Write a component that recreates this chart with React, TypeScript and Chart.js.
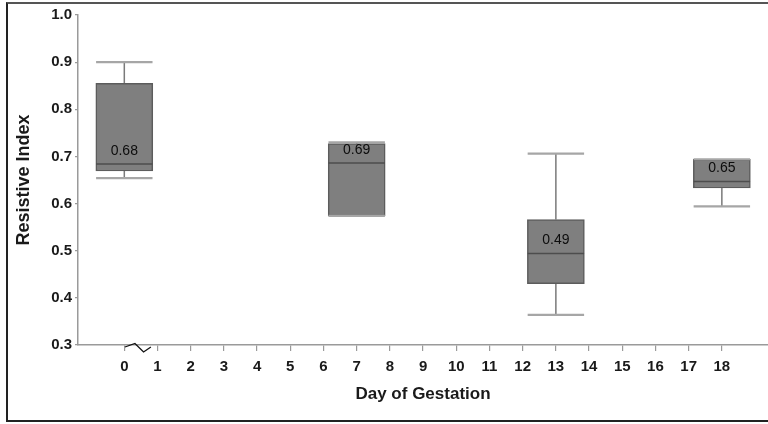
import React, { useEffect, useRef } from "react";
import { Chart, registerables } from "chart.js";

Chart.register(...registerables);

// ---- data ----
const days = [0, 7, 13, 18];
const whiskerMax = [0.9, 0.73, 0.706, 0.694];
const q3 = [0.855, 0.727, 0.566, 0.694];
const median = [0.684, 0.686, 0.494, 0.647];
const q1 = [0.669, 0.574, 0.43, 0.633];
const whiskerMin = [0.654, 0.574, 0.364, 0.594];
const medianLabels = ["0.68", "0.69", "0.49", "0.65"];
const xTickValues = [0, 1, 2, 3, 4, 5, 6, 7, 8, 9, 10, 11, 12, 13, 14, 15, 16, 17, 18];
const yTickValues = [0.3, 0.4, 0.5, 0.6, 0.7, 0.8, 0.9, 1.0];

// ---- style constants ----
const BOX_HALF = 0.85; // half width of box in x units
const FONT = "'Liberation Sans', Arial, Helvetica, sans-serif";

export default function App() {
  const ref = useRef<HTMLCanvasElement | null>(null);

  useEffect(() => {
    if (!ref.current) return;

    const whiskerData: any[] = [];
    const capData: any[] = [];
    const medianData: any[] = [];
    days.forEach((d, i) => {
      whiskerData.push({ x: d, y: q3[i] }, { x: d, y: whiskerMax[i] }, { x: d, y: null });
      whiskerData.push({ x: d, y: q1[i] }, { x: d, y: whiskerMin[i] }, { x: d, y: null });
      capData.push({ x: d - BOX_HALF, y: whiskerMax[i] }, { x: d + BOX_HALF, y: whiskerMax[i] }, { x: d, y: null });
      capData.push({ x: d - BOX_HALF, y: whiskerMin[i] }, { x: d + BOX_HALF, y: whiskerMin[i] }, { x: d, y: null });
      medianData.push({ x: d - BOX_HALF, y: median[i] }, { x: d + BOX_HALF, y: median[i] }, { x: d, y: null });
    });

    const labelPlugin = {
      id: "medianLabels",
      afterDatasetsDraw(chart: any) {
        const { ctx, scales } = chart;
        ctx.save();
        ctx.font = `14px ${FONT}`;
        ctx.fillStyle = "#0d0d0d";
        ctx.textAlign = "center";
        ctx.textBaseline = "middle";
        days.forEach((d, i) => {
          const x = scales.x.getPixelForValue(d);
          const y = scales.y.getPixelForValue(median[i]) - 13;
          ctx.fillText(medianLabels[i], x, y);
        });
        ctx.restore();
      },
      afterDraw(chart: any) {
        const { ctx, scales, chartArea } = chart;
        const xs = [0.02, 0.32, 0.58, 0.8].map((v) => scales.x.getPixelForValue(v));
        const yb = chartArea.bottom;
        const offs = [2, -1.5, 7, 2];
        ctx.save();
        ctx.strokeStyle = "#111";
        ctx.lineWidth = 1.3;
        ctx.beginPath();
        xs.forEach((x, k) => {
          if (k === 0) ctx.moveTo(x, yb + offs[k]);
          else ctx.lineTo(x, yb + offs[k]);
        });
        ctx.stroke();
        ctx.restore();
      },
    };

    const chart = new Chart(ref.current, {
      type: "bar",
      data: {
        datasets: [
          {
            type: "line",
            data: medianData,
            borderColor: "#4d4d4d",
            borderWidth: 1.5,
            pointRadius: 0,
            spanGaps: false,
            order: 1,
          } as any,
          {
            type: "line",
            data: capData,
            borderColor: "#a6a6a6",
            borderWidth: 2.2,
            pointRadius: 0,
            spanGaps: false,
            order: 2,
          } as any,
          {
            type: "bar",
            data: days.map((d, i) => ({ x: d, y: [q1[i], q3[i]] })),
            backgroundColor: "#7f7f7f",
            borderColor: "#5c5c5c",
            borderWidth: 1.5,
            borderSkipped: false,
            barThickness: 57,
            order: 3,
          } as any,
          {
            type: "line",
            data: whiskerData,
            borderColor: "#7a7a7a",
            borderWidth: 1.5,
            pointRadius: 0,
            spanGaps: false,
            order: 4,
          } as any,
        ],
      },
      options: {
        animation: false,
        responsive: false,
        events: [],
        layout: { padding: { top: 15, right: 0, bottom: 0, left: 0 } },
        plugins: { legend: { display: false }, tooltip: { enabled: false } },
        scales: {
          x: {
            type: "linear",
            min: -1.395,
            max: 19.39,
            offset: false,
            afterFit: (s: any) => {
              s.height = 79;
            },
            afterBuildTicks: (s: any) => {
              s.ticks = xTickValues.map((v) => ({ value: v }));
            },
            ticks: {
              autoSkip: false,
              maxRotation: 0,
              padding: 7,
              color: "#1a1a1a",
              font: { family: FONT, size: 15, weight: "bold" },
              callback: (v: any) => String(v),
            },
            grid: { offset: false, drawOnChartArea: false, tickLength: 6, color: "#9a9a9a", lineWidth: 1.2 },
            border: { color: "#9a9a9a", width: 1.5 },
            title: {
              display: true,
              text: "Day of Gestation",
              color: "#1a1a1a",
              font: { family: FONT, size: 17, weight: "bold" },
              padding: { top: 0, bottom: 19 },
            },
          },
          y: {
            type: "linear",
            min: 0.3,
            max: 1.0,
            afterFit: (s: any) => {
              s.width = 78;
            },
            afterBuildTicks: (s: any) => {
              s.ticks = yTickValues.map((v) => ({ value: v }));
            },
            ticks: {
              padding: 3,
              color: "#1a1a1a",
              font: { family: FONT, size: 15, weight: "bold" },
              callback: (v: any) => Number(v).toFixed(1),
            },
            grid: { drawOnChartArea: false, tickLength: 3, color: "#9a9a9a", lineWidth: 1.2 },
            border: { color: "#9a9a9a", width: 1.5 },
            title: {
              display: true,
              text: "Resistive Index",
              color: "#1a1a1a",
              font: { family: FONT, size: 18, weight: "bold" },
              padding: { top: 13, bottom: 0 },
            },
          },
        },
      } as any,
      plugins: [labelPlugin],
    });

    return () => chart.destroy();
  }, []);

  return (
    <div
      style={{
        position: "absolute",
        left: 0,
        top: 0,
        width: 768,
        height: 424,
        overflow: "hidden",
        background: "#fff",
      }}
    >
      <div
        style={{
          position: "absolute",
          left: 6,
          top: 2,
          width: 762,
          height: 420,
          boxSizing: "border-box",
          borderTop: "2px solid #555",
          borderLeft: "2px solid #222",
          borderBottom: "2px solid #222",
        }}
      />
      <canvas ref={ref} width={768} height={424} style={{ position: "absolute", left: 0, top: 0 }} />
    </div>
  );
}
